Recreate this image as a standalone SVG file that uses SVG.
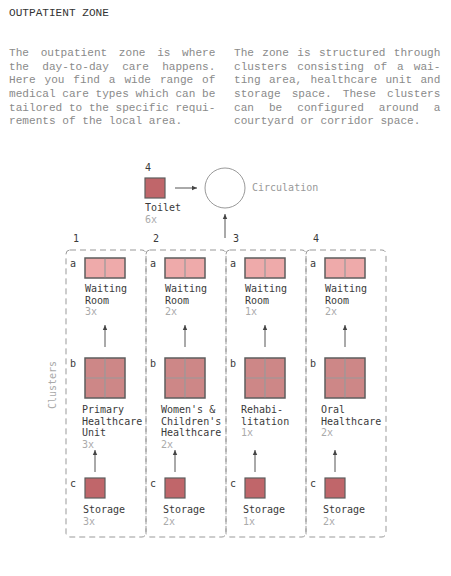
<svg xmlns="http://www.w3.org/2000/svg" width="451" height="576" viewBox="0 0 451 576">
<defs>
<style>
text{font-family:"DejaVu Sans Mono","Liberation Mono",monospace;}
.title{font-size:11.1px;fill:#333;font-family:"Liberation Mono",monospace;}
.para{font-size:11.1px;fill:#8a8a8a;font-family:"Liberation Mono",monospace;}
.lbl{font-size:10px;fill:#3a3a3a;}
.cnt{font-size:10px;fill:#aaa;}
.gray{font-size:10px;fill:#999;}
.cl{fill:none;stroke:#999;stroke-width:1;stroke-dasharray:6 4;}
.wait{fill:#eeaaaa;stroke:#5e5e5e;stroke-width:1.5;}
.hc{fill:#cd8787;stroke:#5e5e5e;stroke-width:1.5;}
.st{fill:#c0666a;stroke:#5e5e5e;stroke-width:1.2;}
.div{stroke:#999;stroke-width:1.2;fill:none;}
.arr{stroke:#555;stroke-width:1;fill:none;marker-end:url(#ah);}
</style>
<marker id="ah" markerUnits="userSpaceOnUse" markerWidth="6" markerHeight="6" refX="5" refY="3" orient="auto">
<path d="M0,0.8 L5,3 L0,5.2 z" fill="#444"/>
</marker>
</defs>

<g id="header">
<text class="title" x="9" y="16">OUTPATIENT ZONE</text>
<text class="para" x="9" y="56" word-spacing="5">The outpatient zone is where</text>
<text class="para" x="9" y="69.5" word-spacing="6.66">the day-to-day care happens.</text>
<text class="para" x="9" y="83" word-spacing="2.22">Here you find a wide range of</text>
<text class="para" x="9" y="96.8">medical care types which can be</text>
<text class="para" x="9" y="110.5">tailored to the specific requi-</text>
<text class="para" x="9" y="124">rements of the local area.</text>
<text class="para" x="234" y="56" word-spacing="1.665">The zone is structured through</text>
<text class="para" x="234" y="69.5" word-spacing="3.33">clusters consisting of a wai-</text>
<text class="para" x="234" y="83" word-spacing="1.665">ting area, healthcare unit and</text>
<text class="para" x="234" y="96.8" word-spacing="4.44">storage space. These clusters</text>
<text class="para" x="234" y="110.5" word-spacing="8.325">can be configured around a</text>
<text class="para" x="234" y="124">courtyard or corridor space.</text>
</g>

<g id="toilet">
<text class="lbl" x="145" y="171">4</text>
<rect class="st" x="145" y="178" width="20" height="20"/>
<text class="lbl" x="145" y="211">Toilet</text>
<text class="cnt" x="145" y="222.5">6x</text>
</g>

<g id="circulation">
<circle cx="225" cy="188" r="20" fill="none" stroke="#999" stroke-width="1"/>
<text class="gray" x="252" y="191">Circulation</text>
</g>

<g id="clusters-frame">
<rect class="cl" x="66" y="250" width="80" height="287" rx="4"/>
<rect class="cl" x="146" y="250" width="80" height="287" rx="4"/>
<rect class="cl" x="226" y="250" width="80" height="287" rx="4"/>
<rect class="cl" x="306" y="250" width="80" height="287" rx="4"/>
<text class="cnt" transform="translate(56,385) rotate(-90)" text-anchor="middle">Clusters</text>
<text class="lbl" x="73" y="242">1</text>
<text class="lbl" x="153" y="242">2</text>
<text class="lbl" x="233" y="242">3</text>
<text class="lbl" x="313" y="242">4</text>
</g>

<!-- Column 1 -->
<g id="waiting-1">
<text class="lbl" x="70" y="267">a</text>
<rect class="wait" x="85" y="258" width="40" height="20"/>
<line class="div" x1="105" y1="258.8" x2="105" y2="277.2"/>
<text class="lbl" x="85" y="292">Waiting</text>
<text class="lbl" x="85" y="303.5">Room</text>
<text class="cnt" x="85" y="315">3x</text>
</g>
<g id="healthcare-1">
<text class="lbl" x="70" y="367">b</text>
<rect class="hc" x="85" y="358" width="40" height="40"/>
<path class="div" d="M105,358.8 V397.2 M85.8,378 H124.2"/>
<text class="lbl" x="82" y="413">Primary</text>
<text class="lbl" x="82" y="424.5">Healthcare</text>
<text class="lbl" x="82" y="436">Unit</text>
<text class="cnt" x="82" y="447.5">3x</text>
</g>
<g id="storage-1">
<text class="lbl" x="70" y="487">c</text>
<rect class="st" x="85" y="478" width="20" height="20"/>
<text class="lbl" x="83" y="513">Storage</text>
<text class="cnt" x="83" y="524.5">3x</text>
</g>

<!-- Column 2 -->
<g id="waiting-2">
<text class="lbl" x="150" y="267">a</text>
<rect class="wait" x="165" y="258" width="40" height="20"/>
<line class="div" x1="185" y1="258.8" x2="185" y2="277.2"/>
<text class="lbl" x="165" y="292">Waiting</text>
<text class="lbl" x="165" y="303.5">Room</text>
<text class="cnt" x="165" y="315">2x</text>
</g>
<g id="healthcare-2">
<text class="lbl" x="150" y="367">b</text>
<rect class="hc" x="165" y="358" width="40" height="40"/>
<path class="div" d="M185,358.8 V397.2 M165.8,378 H204.2"/>
<text class="lbl" x="161" y="413">Women's &amp;</text>
<text class="lbl" x="161" y="424.5">Children's</text>
<text class="lbl" x="161" y="436">Healthcare</text>
<text class="cnt" x="161" y="447.5">2x</text>
</g>
<g id="storage-2">
<text class="lbl" x="150" y="487">c</text>
<rect class="st" x="165" y="478" width="20" height="20"/>
<text class="lbl" x="163" y="513">Storage</text>
<text class="cnt" x="163" y="524.5">2x</text>
</g>

<!-- Column 3 -->
<g id="waiting-3">
<text class="lbl" x="230" y="267">a</text>
<rect class="wait" x="245" y="258" width="40" height="20"/>
<line class="div" x1="265" y1="258.8" x2="265" y2="277.2"/>
<text class="lbl" x="245" y="292">Waiting</text>
<text class="lbl" x="245" y="303.5">Room</text>
<text class="cnt" x="245" y="315">1x</text>
</g>
<g id="healthcare-3">
<text class="lbl" x="230" y="367">b</text>
<rect class="hc" x="245" y="358" width="40" height="40"/>
<path class="div" d="M265,358.8 V397.2 M245.8,378 H284.2"/>
<text class="lbl" x="241" y="413">Rehabi-</text>
<text class="lbl" x="241" y="424.5">litation</text>
<text class="cnt" x="241" y="436">1x</text>
</g>
<g id="storage-3">
<text class="lbl" x="230" y="487">c</text>
<rect class="st" x="245" y="478" width="20" height="20"/>
<text class="lbl" x="243" y="513">Storage</text>
<text class="cnt" x="243" y="524.5">1x</text>
</g>

<!-- Column 4 -->
<g id="waiting-4">
<text class="lbl" x="310" y="267">a</text>
<rect class="wait" x="325" y="258" width="40" height="20"/>
<line class="div" x1="345" y1="258.8" x2="345" y2="277.2"/>
<text class="lbl" x="325" y="292">Waiting</text>
<text class="lbl" x="325" y="303.5">Room</text>
<text class="cnt" x="325" y="315">2x</text>
</g>
<g id="healthcare-4">
<text class="lbl" x="310" y="367">b</text>
<rect class="hc" x="325" y="358" width="40" height="40"/>
<path class="div" d="M345,358.8 V397.2 M325.8,378 H364.2"/>
<text class="lbl" x="321" y="413">Oral</text>
<text class="lbl" x="321" y="424.5">Healthcare</text>
<text class="cnt" x="321" y="436">2x</text>
</g>
<g id="storage-4">
<text class="lbl" x="310" y="487">c</text>
<rect class="st" x="325" y="478" width="20" height="20"/>
<text class="lbl" x="323" y="513">Storage</text>
<text class="cnt" x="323" y="524.5">2x</text>
</g>

<g id="connectors">
<line class="arr" x1="175" y1="188" x2="197" y2="188"/>
<line class="arr" x1="225" y1="238" x2="225" y2="214"/>
<line class="arr" x1="105" y1="347" x2="105" y2="325"/>
<line class="arr" x1="185" y1="347" x2="185" y2="325"/>
<line class="arr" x1="265" y1="347" x2="265" y2="325"/>
<line class="arr" x1="345" y1="347" x2="345" y2="325"/>
<line class="arr" x1="95" y1="472" x2="95" y2="450"/>
<line class="arr" x1="175" y1="472" x2="175" y2="450"/>
<line class="arr" x1="255" y1="472" x2="255" y2="450"/>
<line class="arr" x1="335" y1="472" x2="335" y2="450"/>
</g>
</svg>
